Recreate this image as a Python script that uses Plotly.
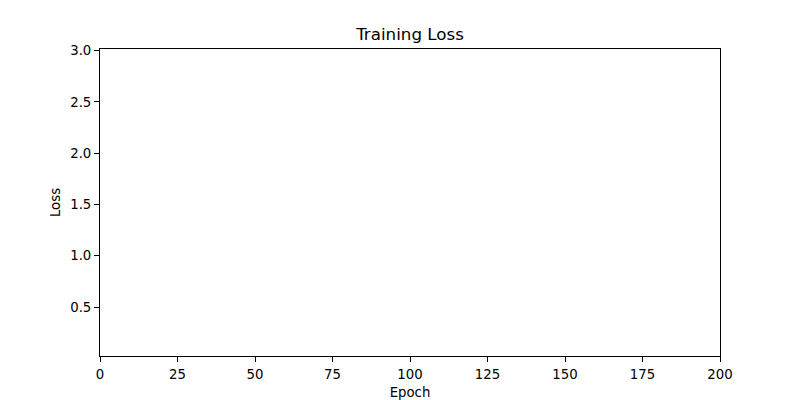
import plotly.graph_objects as go

# Data (the reference plot shows no plotted values)
epochs = []
loss = []

x_range = [0, 200]
y_range = [0.023, 3.016]
x_ticks = [0, 25, 50, 75, 100, 125, 150, 175, 200]
y_ticks = [0.5, 1.0, 1.5, 2.0, 2.5, 3.0]

fig = go.Figure()
fig.add_trace(go.Scatter(x=epochs, y=loss, mode="lines", line=dict(color="#1f77b4", width=1.5),
                         showlegend=False))

font_family = "DejaVu Sans"
axis_common = dict(
    showline=True, linecolor="black", linewidth=1, mirror=True,
    ticks="outside", ticklen=5, tickwidth=1, tickcolor="black",
    showgrid=False, zeroline=False,
    tickfont=dict(family=font_family, size=13.3, color="black"),
)

# page body has an 8px margin, so the figure is sized to fit the 800x400 window
fig.update_layout(
    width=792, height=392,
    margin=dict(l=92, r=80, t=41, b=44, pad=0),
    paper_bgcolor="white", plot_bgcolor="white",
    font=dict(family=font_family, color="black"),
    title=dict(text="Training Loss", x=0.5, xref="paper", xanchor="center",
               y=1, yref="paper", yanchor="bottom", pad=dict(b=9),
               font=dict(family=font_family, size=16.7, color="black")),
    xaxis=dict(range=x_range, tickvals=x_ticks, ticktext=[str(v) for v in x_ticks],
               ticklabelstandoff=1, automargin=False,
               title=dict(text="Epoch", font=dict(family=font_family, size=13.3), standoff=6),
               **axis_common),
    yaxis=dict(range=y_range, tickvals=y_ticks, ticktext=[f"{v:.1f}" for v in y_ticks],
               automargin=False,
               title=dict(text="Loss", font=dict(family=font_family, size=13.3), standoff=6),
               **axis_common),
)

fig.write_html("out.html")
